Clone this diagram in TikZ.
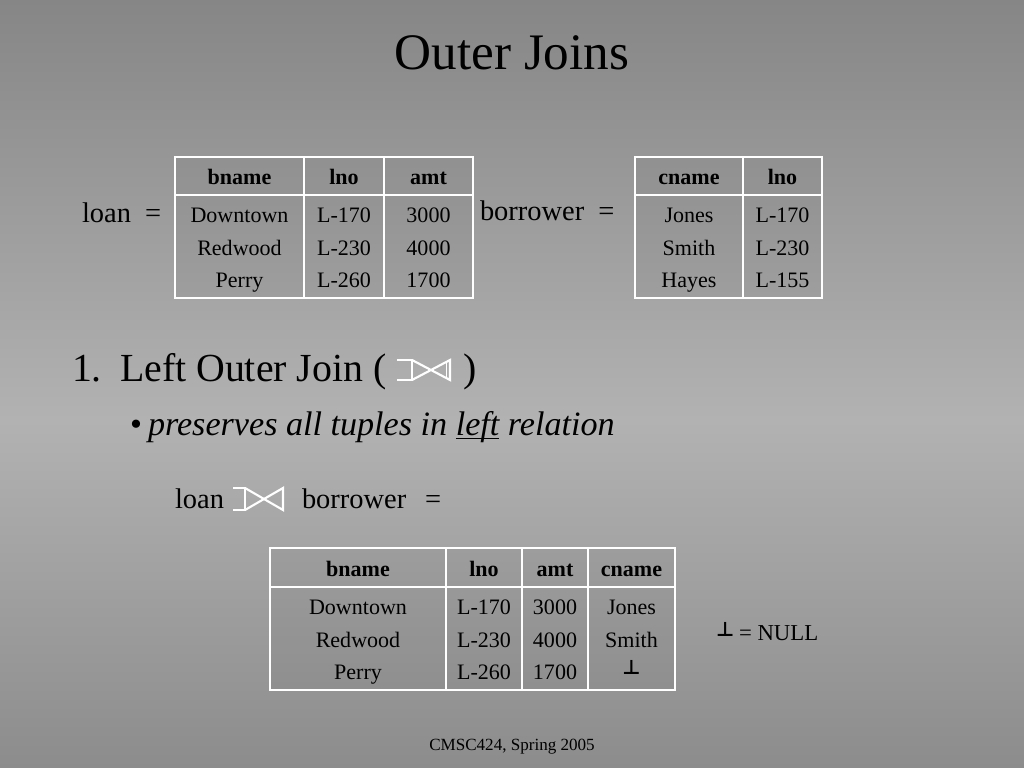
\documentclass[tikz,border=0pt]{standalone}
\usepackage{fontspec}
\setmainfont{Liberation Serif}
\newfontfamily\symfont{DejaVu Sans}
\newcommand\myul[1]{\setbox0\hbox{#1}\rlap{\rule[-3pt]{\wd0}{0.9pt}}#1}
\begin{document}
\begin{tikzpicture}[x=0.703125pt,y=-0.703125pt,
  txt/.style={inner sep=0pt,outer sep=0pt,anchor=base,text=black},
  fs/.style={font=\fontsize{#1}{#1}\selectfont},
  cell/.style={txt,fs=15.5},
  head/.style={txt,font=\fontsize{15.5}{15.5}\selectfont\bfseries},
  botsym/.style={txt,font=\fontsize{14}{14}\selectfont\symfont\bfseries},
  outer/.style={draw=white,line width=2pt,fill=black,fill opacity=0.04},
  grid/.style={draw=white,line width=1.1pt},
  sym/.style={draw=white,line width=1.5pt,line cap=butt,line join=miter}]
\useasboundingbox (0,0) rectangle (1024,768);
\shade[top color={rgb,255:red,134;green,134;blue,134},bottom color={rgb,255:red,178;green,178;blue,178}] (0,0) rectangle (1024,420);
\shade[top color={rgb,255:red,178;green,178;blue,178},bottom color={rgb,255:red,140;green,140;blue,140}] (0,420) rectangle (1024,768);

% title
\node[txt,fs=36] (title) at (512,70) {Outer Joins};

% loan table
\node[txt,fs=20,anchor=base west] (loanlbl) at (82,223) {loan\hspace{10pt}=};
\path[outer] (175,157) rectangle (473,298);
\draw[grid] (175,195) -- (473,195) (304,157) -- (304,298) (384,157) -- (384,298);
\draw[draw=white,line width=2pt] (175,157) rectangle (473,298);
\node[head] (l-h1) at (239.5,185) {bname};
\node[head] (l-h2) at (344,185) {lno};
\node[head] (l-h3) at (428.5,185) {amt};
\node[cell] (l-11) at (239.5,223) {Downtown};
\node[cell] (l-12) at (344,223) {L-170};
\node[cell] (l-13) at (428.5,223) {3000};
\node[cell] (l-21) at (239.5,256) {Redwood};
\node[cell] (l-22) at (344,256) {L-230};
\node[cell] (l-23) at (428.5,256) {4000};
\node[cell] (l-31) at (239.5,288) {Perry};
\node[cell] (l-32) at (344,288) {L-260};
\node[cell] (l-33) at (428.5,288) {1700};

% borrower table
\node[txt,fs=20,anchor=base west] (borlbl) at (480,221) {borrower\hspace{10pt}=};
\path[outer] (635,157) rectangle (822,298);
\draw[grid] (635,195) -- (822,195) (743,157) -- (743,298);
\draw[draw=white,line width=2pt] (635,157) rectangle (822,298);
\node[head] (b-h1) at (689,185) {cname};
\node[head] (b-h2) at (782.5,185) {lno};
\node[cell] (b-11) at (689,223) {Jones};
\node[cell] (b-12) at (782.5,223) {L-170};
\node[cell] (b-21) at (689,256) {Smith};
\node[cell] (b-22) at (782.5,256) {L-230};
\node[cell] (b-31) at (689,288) {Hayes};
\node[cell] (b-32) at (782.5,288) {L-155};

% heading
\node[txt,fs=28,anchor=base west] (num) at (72,381) {1.};
\node[txt,fs=28,anchor=base west] (lojtxt) at (120,381) {Left Outer Join (};
\node[txt,fs=28,anchor=base west] (rpar) at (463,381) {)};
\draw[sym] (397,360) -- (412,360) -- (412,380) -- (397,380);
\draw[sym] (412,360) -- (450,380) -- (450,360) -- (412,380);
\draw[draw=white,line width=0.8pt] (446.5,362) -- (446.5,378);

% bullet
\node[txt,fs=24,anchor=base west] (bul) at (130,435) {\textbullet};
\node[txt,fs=24,anchor=base west] (pres) at (148,435) {\itshape preserves all tuples in \myul{left} relation};

% expression
\node[txt,fs=20,anchor=base west] (eloan) at (175,508) {loan};
\draw[sym] (233,488) -- (245,488) -- (245,510) -- (233,510);
\draw[sym] (245,488) -- (283,510) -- (283,488) -- (245,510);
\node[txt,fs=20,anchor=base west] (ebor) at (302,508) {borrower};
\node[txt,fs=20,anchor=base west] (eeq) at (425,508) {=};

% result table
\path[outer] (270,548) rectangle (675,690);
\draw[grid] (270,587) -- (675,587) (446,548) -- (446,690) (522,548) -- (522,690) (588,548) -- (588,690);
\draw[draw=white,line width=2pt] (270,548) rectangle (675,690);
\node[head] (r-h1) at (358,576) {bname};
\node[head] (r-h2) at (484,576) {lno};
\node[head] (r-h3) at (555,576) {amt};
\node[head] (r-h4) at (631.5,576) {cname};
\node[cell] (r-11) at (358,614) {Downtown};
\node[cell] (r-12) at (484,614) {L-170};
\node[cell] (r-13) at (555,614) {3000};
\node[cell] (r-14) at (631.5,614) {Jones};
\node[cell] (r-21) at (358,647) {Redwood};
\node[cell] (r-22) at (484,647) {L-230};
\node[cell] (r-23) at (555,647) {4000};
\node[cell] (r-24) at (631.5,647) {Smith};
\node[cell] (r-31) at (358,679) {Perry};
\node[cell] (r-32) at (484,679) {L-260};
\node[cell] (r-33) at (555,679) {1700};
\node[botsym] (r-34) at (631.5,674) {⊥};

% null legend
\node[botsym,anchor=base west] (nbot) at (716,636) {⊥};
\node[txt,fs=16,anchor=base west] (nnull) at (739,640) {= NULL};

% footer
\node[txt,fs=12] (foot) at (512,750) {CMSC424, Spring 2005};
\end{tikzpicture}
\end{document}
